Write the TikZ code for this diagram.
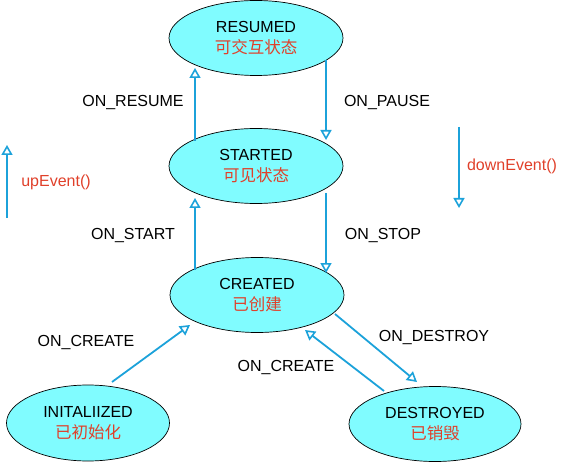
\documentclass[tikz,border=0pt]{standalone}
\usepackage{fontspec}
\setmainfont{Liberation Sans}
\newfontfamily\cjk{Noto Sans CJK SC}
\usepackage{xcolor}
\usetikzlibrary{calc,arrows.meta,shapes.geometric}
\definecolor{statefill}{HTML}{80FCFF}
\definecolor{flow}{HTML}{1CA2DA}
\definecolor{zh}{HTML}{E0402A}
\tikzset{
  state/.style={ellipse, draw=black, line width=0.7pt, fill=statefill,
    minimum width=174pt, minimum height=75pt, inner sep=0pt, align=center,
    font=\fontsize{16}{20.5}\selectfont},
  fline/.style={draw=flow, line width=1.8pt,
    -{Triangle[open, length=10pt, width=11pt, line width=1.6pt]}},
  lbl/.style={text=black, font=\fontsize{16}{18}\selectfont},
  rlbl/.style={text=zh, font=\fontsize{16}{18}\selectfont}
}
\newcommand{\zhline}[1]{{\cjk\fontsize{16.5}{20.5}\selectfont\color{zh}#1}}

\begin{document}
\begin{tikzpicture}[x=1pt, y=-1pt]
  \useasboundingbox (0,0) rectangle (564,462);

  \node[state] (resumed) at (256,38) {RESUMED\\\zhline{可交互状态}};
  \node[state] (started) at (256,166) {STARTED\\\zhline{可见状态}};
  \node[state] (created) at (257,295) {CREATED\\\zhline{已创建}};
  \node[state, minimum width=163pt, minimum height=76pt] (init) at (88,423) {INITALIIZED\\\zhline{已初始化}};
  \node[state, minimum width=172pt] (destroyed) at (435,424) {DESTROYED\\\zhline{已销毁}};

  % up and down the ladder
  \draw[fline] ($(started.center)+(-61,-25)$) -- ($(resumed.center)+(-61,30)$);
  \draw[fline] ($(resumed.center)+(70,22)$) -- ($(started.center)+(70,-26)$);
  \draw[fline] ($(created.center)+(-62,-25)$) -- ($(started.center)+(-61,32)$);
  \draw[fline] ($(started.center)+(70,27)$) -- ($(created.center)+(69,-22)$);

  % bottom states
  \draw[fline] ($(init.center)+(24,-41)$) -- ($(created.center)+(-67,30)$);
  \draw[fline] ($(created.center)+(78,19)$) -- ($(destroyed.center)+(-18,-42)$);
  \draw[fline] ($(destroyed.center)+(-51,-33)$) -- ($(created.center)+(48,35)$);

  \node[lbl] (lresume) at (133,103) {ON\_RESUME};
  \node[lbl] (lpause) at (387,103) {ON\_PAUSE};
  \node[lbl] (lstart) at (133,236) {ON\_START};
  \node[lbl] (lstop) at (383,236) {ON\_STOP};
  \node[lbl] (lcreate) at (86,343) {ON\_CREATE};
  \node[lbl] (ldestroy) at (434,338) {ON\_DESTROY};
  \node[lbl] (lrecreate) at (286,368) {ON\_CREATE};

  % event direction
  \coordinate (upA) at (7,218);
  \coordinate (upB) at (7,145);
  \coordinate (downA) at (459,127);
  \coordinate (downB) at (459,208);
  \draw[fline] (upA) -- (upB);
  \draw[fline] (downA) -- (downB);
  \node[rlbl] (upev) at (56,182) {upEvent()};
  \node[rlbl] (downev) at (512,166) {downEvent()};
\end{tikzpicture}
\end{document}
